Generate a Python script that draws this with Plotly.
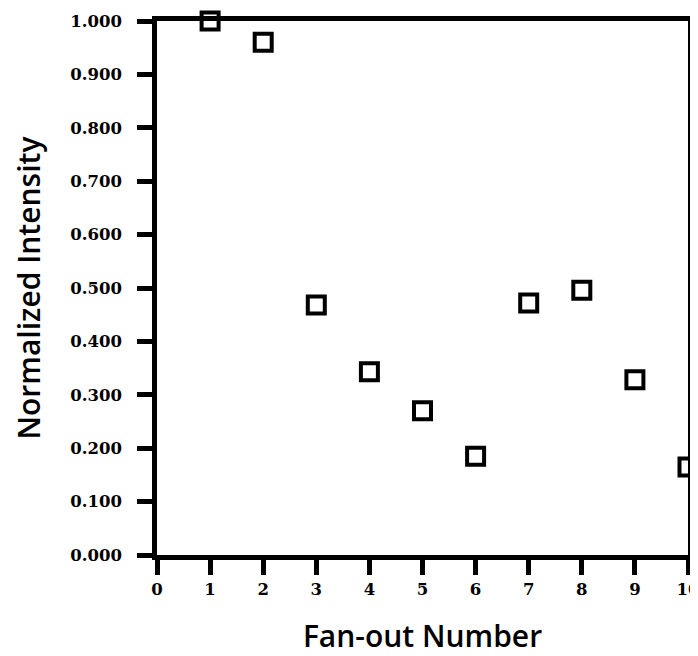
import plotly.graph_objects as go

fan_out = [1, 2, 3, 4, 5, 6, 7, 8, 9, 10]
intensity = [1.000, 0.960, 0.468, 0.343, 0.270, 0.185, 0.472, 0.496, 0.328, 0.165]

fig = go.Figure()
fig.add_trace(go.Scatter(
    x=fan_out, y=intensity, mode="markers",
    marker=dict(symbol="square-open", size=17, color="black", line=dict(width=4, color="black")),
    cliponaxis=False,
))

tickfont = dict(family="DejaVu Serif", size=16.5, color="black", weight="bold")
titlefont = dict(family="Open Sans", size=30, color="black", weight=600)
fig.update_layout(
    width=698, height=656,
    margin=dict(l=149, r=18, t=13, b=109, autoexpand=False),
    plot_bgcolor="white", paper_bgcolor="white",
    showlegend=False,
    xaxis=dict(
        range=[0, 10], dtick=1, tick0=0, showgrid=False, zeroline=False,
        showline=True, linewidth=4.5, linecolor="black", mirror=True,
        ticks="outside", ticklen=15, tickwidth=4.5, tickcolor="black",
        tickfont=tickfont, automargin=False,
        title=dict(text="Fan-out Number", font=titlefont, standoff=30),
    ),
    yaxis=dict(
        range=[0, 1], dtick=0.1, tick0=0, tickformat=".3f", showgrid=False, zeroline=False,
        showline=True, linewidth=4.5, linecolor="black", mirror=True,
        ticks="outside", ticklen=15, tickwidth=4.5, tickcolor="black",
        tickfont=tickfont, ticklabelstandoff=12, automargin=False,
        title=dict(text="Normalized Intensity", font=titlefont, standoff=36),
    ),
)
fig.write_html("out.html")
